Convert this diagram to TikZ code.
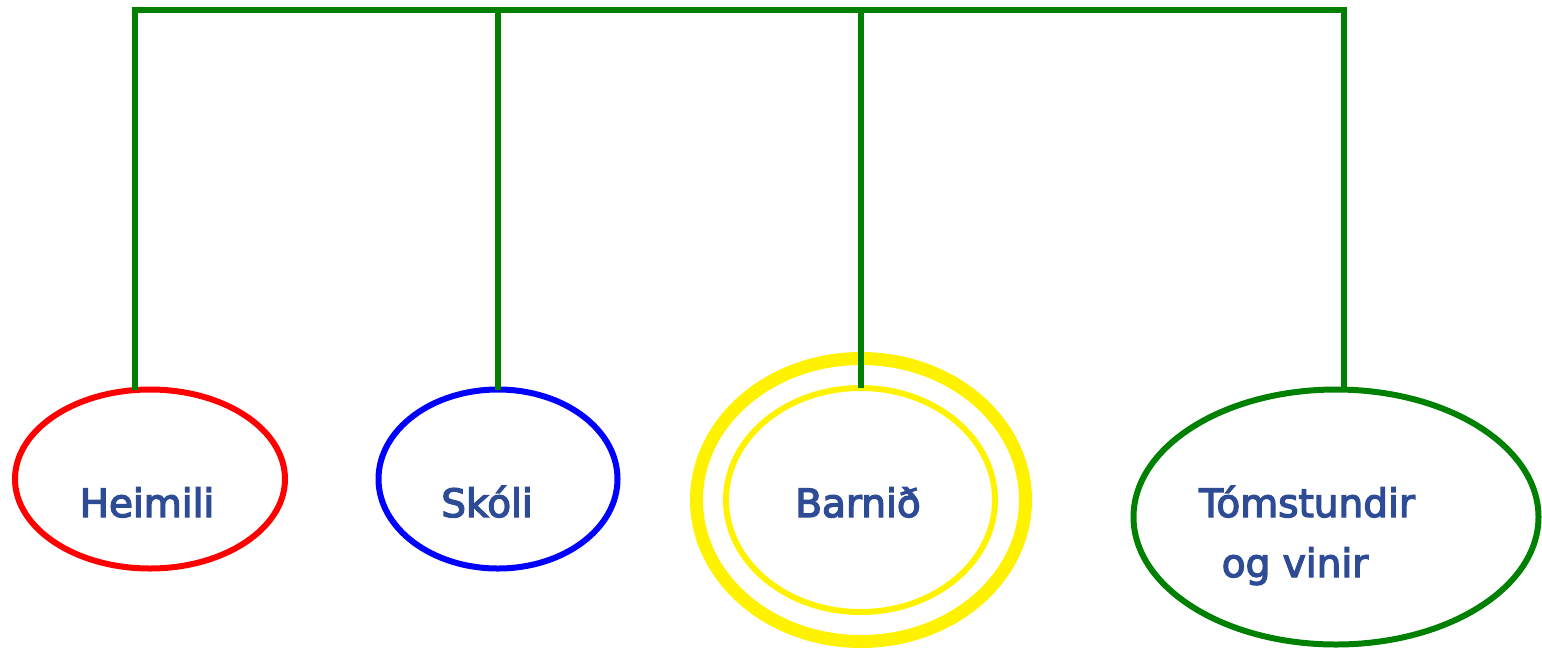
\documentclass[tikz,border=0pt]{standalone}
\usepackage{fontspec}
\newfontfamily\labfont{DejaVu Sans}[RawFeature={embolden=3.5}]
\usetikzlibrary{shapes.geometric}
\definecolor{txtblue}{HTML}{2E4B96}
\definecolor{lgreen}{HTML}{008000}
\tikzset{
  oval/.style={ellipse, draw, inner sep=0pt, outer sep=0pt},
  wire/.style={draw=lgreen, line width=6pt},
  lab/.style={text=txtblue, font=\labfont\fontsize{39}{46}\selectfont, anchor=base, inner sep=0pt}
}
\begin{document}
\begin{tikzpicture}[x=1pt,y=-1pt]
\useasboundingbox (0,0) rectangle (1542,649);
% ellipses
\node[oval, draw=red, line width=6pt, minimum width=270pt, minimum height=179pt] (heim) at (150,479) {};
\node[oval, draw=blue, line width=6pt, minimum width=239pt, minimum height=179pt] (skoli) at (498,479) {};
\node[oval, draw=yellow, line width=13pt, minimum width=329pt, minimum height=283pt] (barnout) at (861,500) {};
\node[oval, draw=yellow, line width=6pt, minimum width=269pt, minimum height=224pt] (barnin) at (860.5,500) {};
\node[oval, draw=lgreen, line width=6pt, minimum width=405pt, minimum height=255pt] (toms) at (1336,517) {};
% top bar
\coordinate (t1) at (135,10);
\coordinate (t2) at (498,10);
\coordinate (t3) at (861,10);
\coordinate (t4) at (1344,10);
\draw[wire, line cap=rect] (t1) -- (t4);
\draw[wire] (t1) -- (t1 |- heim.north);
\draw[wire] (t2) -- (skoli.north);
\draw[wire] (t3) -- (t3 |- barnin.north);
\draw[wire] (t4) -- (t4 |- toms.north);
% labels
\node[lab] (l1) at (147,517) {Heimili};
\node[lab] (l2) at (487,517) {Skóli};
\node[lab] (l3) at (858,517) {Barnið};
\node[lab] (l4) at (1307,517) {Tómstundir};
\node[lab] (l5) at (1295,577) {og vinir};
\end{tikzpicture}
\end{document}
